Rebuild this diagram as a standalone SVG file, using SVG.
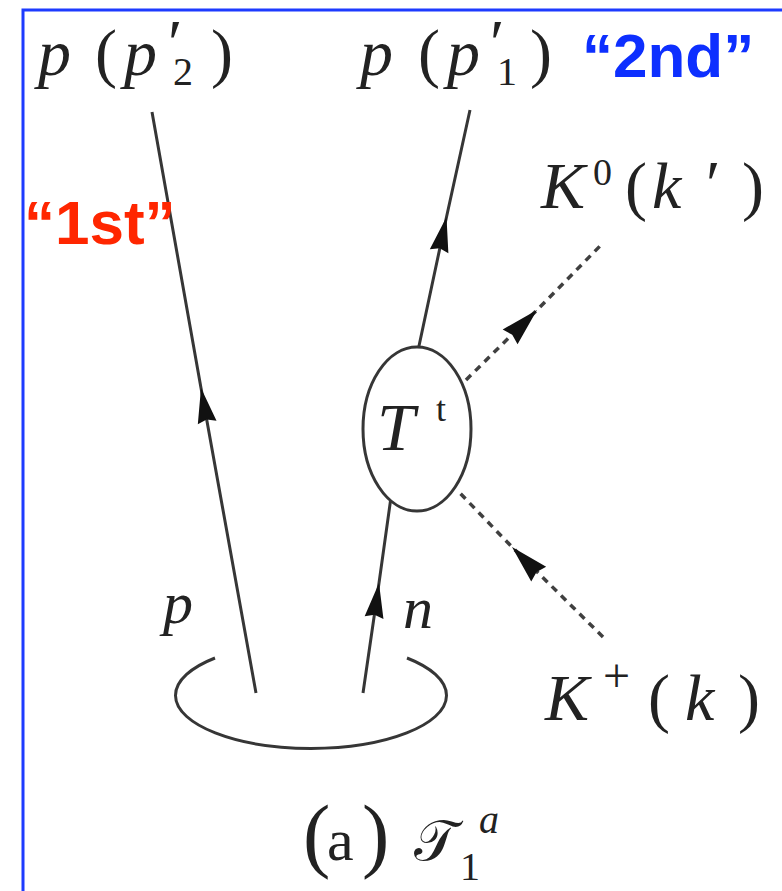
<svg xmlns="http://www.w3.org/2000/svg" width="782" height="891" viewBox="0 0 782 891">
<style>
.m{font-family:"Liberation Serif","Times New Roman",serif;fill:#222}
.i{font-style:italic}
.pr{font-size:66px}
.ln{fill:none;stroke:#363636;stroke-width:3}
.dot{stroke:#404040;stroke-width:3.5;stroke-dasharray:7 6}
.tag{font-family:"Liberation Sans",Arial,sans-serif;font-weight:bold;font-size:62px}
</style>
<defs>
<marker id="arr" markerUnits="userSpaceOnUse" markerWidth="50" markerHeight="30" viewBox="-40 -15 50 30" refX="0" refY="0" orient="auto">
<path d="M0,0 L-35,-9.5 L-32,0 L-35,9.5 Z" fill="#111"/>
</marker>
<marker id="arrd" markerUnits="userSpaceOnUse" markerWidth="50" markerHeight="30" viewBox="-42 -15 50 30" refX="0" refY="0" orient="auto">
<path d="M0,0 L-38,-10.5 L-35,0 L-38,10.5 Z" fill="#111"/>
</marker>
</defs>
<rect width="782" height="891" fill="#fff"/>
<path d="M23,891 V10 H782" fill="none" stroke="#1d3bff" stroke-width="3"/>
<g id="connectors">
<path class="ln" d="M256,693 L201,388 L152,112" marker-mid="url(#arr)"/>
<path class="ln" d="M416,360 L446.5,217 L470,110" marker-mid="url(#arr)"/>
<path class="ln" d="M363,693 L379,583 L392,490" marker-mid="url(#arr)"/>
<path class="ln dot" d="M466,380 L537,310 L603,243" marker-mid="url(#arrd)"/>
<path class="ln dot" d="M603,637 L512,547 L457,490" marker-mid="url(#arrd)"/>
<path class="ln" d="M215,658 A135.5 53 0 1 0 407,658"/>
</g>
<g id="vertex-T">
<ellipse cx="417" cy="429" rx="54" ry="82" fill="#fff" stroke="#363636" stroke-width="3"/>
<text class="m i" x="377" y="450" font-size="68">T</text>
<text class="m" x="436" y="421" font-size="36">t</text>
</g>
<g id="label-p2">
<text class="m i" x="38" y="75" font-size="66">p</text>
<text class="m" x="95" y="75" font-size="66">(</text>
<text class="m i" x="124" y="75" font-size="66">p</text>
<text class="m pr" x="168" y="65">′</text>
<text class="m" x="173" y="85" font-size="40">2</text>
<text class="m" x="211" y="75" font-size="66">)</text>
</g>
<g id="label-p1">
<text class="m i" x="360" y="75" font-size="66">p</text>
<text class="m" x="418" y="75" font-size="66">(</text>
<text class="m i" x="447" y="75" font-size="66">p</text>
<text class="m pr" x="490" y="65">′</text>
<text class="m" x="497" y="85" font-size="40">1</text>
<text class="m" x="530" y="75" font-size="66">)</text>
</g>
<g id="tag-2nd"><text class="tag" x="582" y="77" fill="#0d2fff">“2nd”</text></g>
<g id="tag-1st"><text class="tag" x="24" y="244" fill="#ff2600">“1st”</text></g>
<g id="label-K0">
<text class="m i" x="541" y="208" font-size="66">K</text>
<text class="m" x="593" y="185" font-size="38">0</text>
<text class="m" x="625" y="208" font-size="66">(</text>
<text class="m i" x="652" y="208" font-size="66">k</text>
<text class="m pr" x="706" y="206">′</text>
<text class="m" x="742" y="208" font-size="66">)</text>
</g>
<g id="label-Kplus">
<text class="m i" x="545" y="720" font-size="66">K</text>
<text class="m" x="603" y="692" font-size="48">+</text>
<text class="m" x="648" y="720" font-size="66">(</text>
<text class="m i" x="685" y="720" font-size="66">k</text>
<text class="m" x="738" y="720" font-size="66">)</text>
</g>
<g id="label-p">
<text class="m i" x="163" y="623" font-size="60">p</text>
</g>
<g id="label-n">
<text class="m i" x="403" y="628" font-size="60">n</text>
</g>
<g id="caption">
<text class="m" x="303" y="862" font-size="82">(</text>
<text class="m" x="327" y="860" font-size="60">a</text>
<text class="m" x="362" y="862" font-size="82">)</text>
<text class="m" x="414" y="860" font-size="56" font-family="'DejaVu Serif','DejaVu Sans',serif">𝒯</text>
<text class="m" x="460" y="880" font-size="40">1</text>
<text class="m i" x="479" y="833" font-size="40">a</text>
</g>
</svg>
